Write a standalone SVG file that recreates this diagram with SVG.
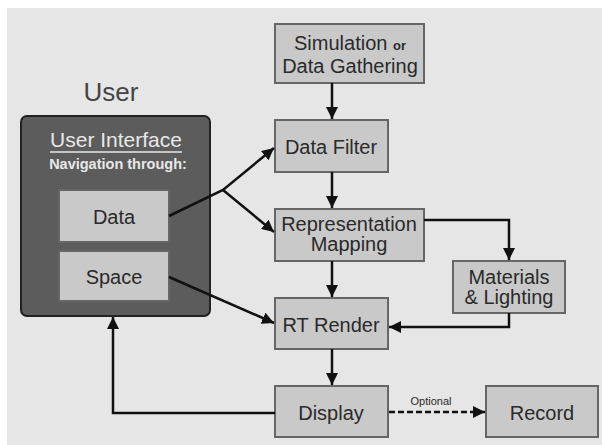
<svg xmlns="http://www.w3.org/2000/svg" width="602" height="445" viewBox="0 0 602 445">
<style>
.box{fill:#c9c9c9;stroke:#666;stroke-width:2}
.t{font-family:"Liberation Sans",Arial,sans-serif;fill:#2a2a2a;text-anchor:middle;font-size:20px}
.c{stroke:#111;stroke-width:2.5;fill:none}
</style>
<defs>
<marker id="ah" viewBox="0 0 12 12" refX="12" refY="6" markerWidth="12" markerHeight="12" markerUnits="userSpaceOnUse" orient="auto">
<path d="M0,0 L12,6 L0,12 z" fill="#111"/>
</marker>
</defs>
<rect x="0" y="0" width="602" height="445" fill="#ffffff"/>
<rect x="7" y="8" width="595" height="437" fill="#e6e6e6"/>
<text class="t" x="111" y="101" style="font-size:26px;fill:#444">User</text>
<g id="user">
<rect x="21" y="116" width="189" height="200" rx="6" fill="#5c5c5c" stroke="#222" stroke-width="2"/>
<text class="t" x="116" y="147" style="font-size:21px;fill:#e8e8e8">User Interface</text>
<line x1="50" y1="152" x2="182" y2="152" stroke="#e8e8e8" stroke-width="1.5"/>
<text class="t" x="118" y="169" font-weight="bold" style="font-size:14.5px;fill:#e8e8e8">Navigation through:</text>
</g>
<g id="data"><rect class="box" x="59" y="190" width="110" height="52"/><text class="t" x="114" y="224">Data</text></g>
<g id="space"><rect class="box" x="59" y="251" width="110" height="50"/><text class="t" x="114" y="284">Space</text></g>
<g id="sim"><rect class="box" x="275" y="24" width="149" height="59"/><text class="t" x="350" y="50">Simulation <tspan font-size="13" font-weight="bold">or</tspan></text><text class="t" x="350" y="73">Data Gathering</text></g>
<g id="filter"><rect class="box" x="275" y="120" width="113" height="52"/><text class="t" x="331" y="154">Data Filter</text></g>
<g id="rep"><rect class="box" x="275" y="209" width="149" height="52"/><text class="t" x="349" y="231">Representation</text><text class="t" x="349" y="251">Mapping</text></g>
<g id="mat"><rect class="box" x="453" y="261" width="112" height="52"/><text class="t" x="509" y="284">Materials</text><text class="t" x="509" y="304">&amp; Lighting</text></g>
<g id="rt"><rect class="box" x="275" y="298" width="113" height="51"/><text class="t" x="331" y="332">RT Render</text></g>
<g id="display"><rect class="box" x="275" y="386" width="113" height="51"/><text class="t" x="331" y="420">Display</text></g>
<g id="record"><rect class="box" x="486" y="386" width="112" height="51"/><text class="t" x="542" y="420">Record</text></g>
<g id="connectors">
<line class="c" x1="332" y1="83" x2="332" y2="119" marker-end="url(#ah)"/>
<line class="c" x1="332" y1="172" x2="332" y2="208" marker-end="url(#ah)"/>
<line class="c" x1="332" y1="261" x2="332" y2="297" marker-end="url(#ah)"/>
<line class="c" x1="332" y1="349" x2="332" y2="385" marker-end="url(#ah)"/>
<polyline class="c" points="424,220 509,220 509,260" marker-end="url(#ah)"/>
<polyline class="c" points="509,313 509,327 389,327" marker-end="url(#ah)"/>
<polyline class="c" points="169,216 223,190 274,148" marker-end="url(#ah)"/>
<line class="c" x1="223" y1="190" x2="274" y2="232" marker-end="url(#ah)"/>
<line class="c" x1="169" y1="277" x2="274" y2="323" marker-end="url(#ah)"/>
<polyline class="c" points="275,413 113,413 113,317" marker-end="url(#ah)"/>
<line class="c" x1="389" y1="412" x2="485" y2="412" stroke-dasharray="6,3" marker-end="url(#ah)"/>
<text class="t" x="431" y="405" style="font-size:11px">Optional</text>
</g>
</svg>
